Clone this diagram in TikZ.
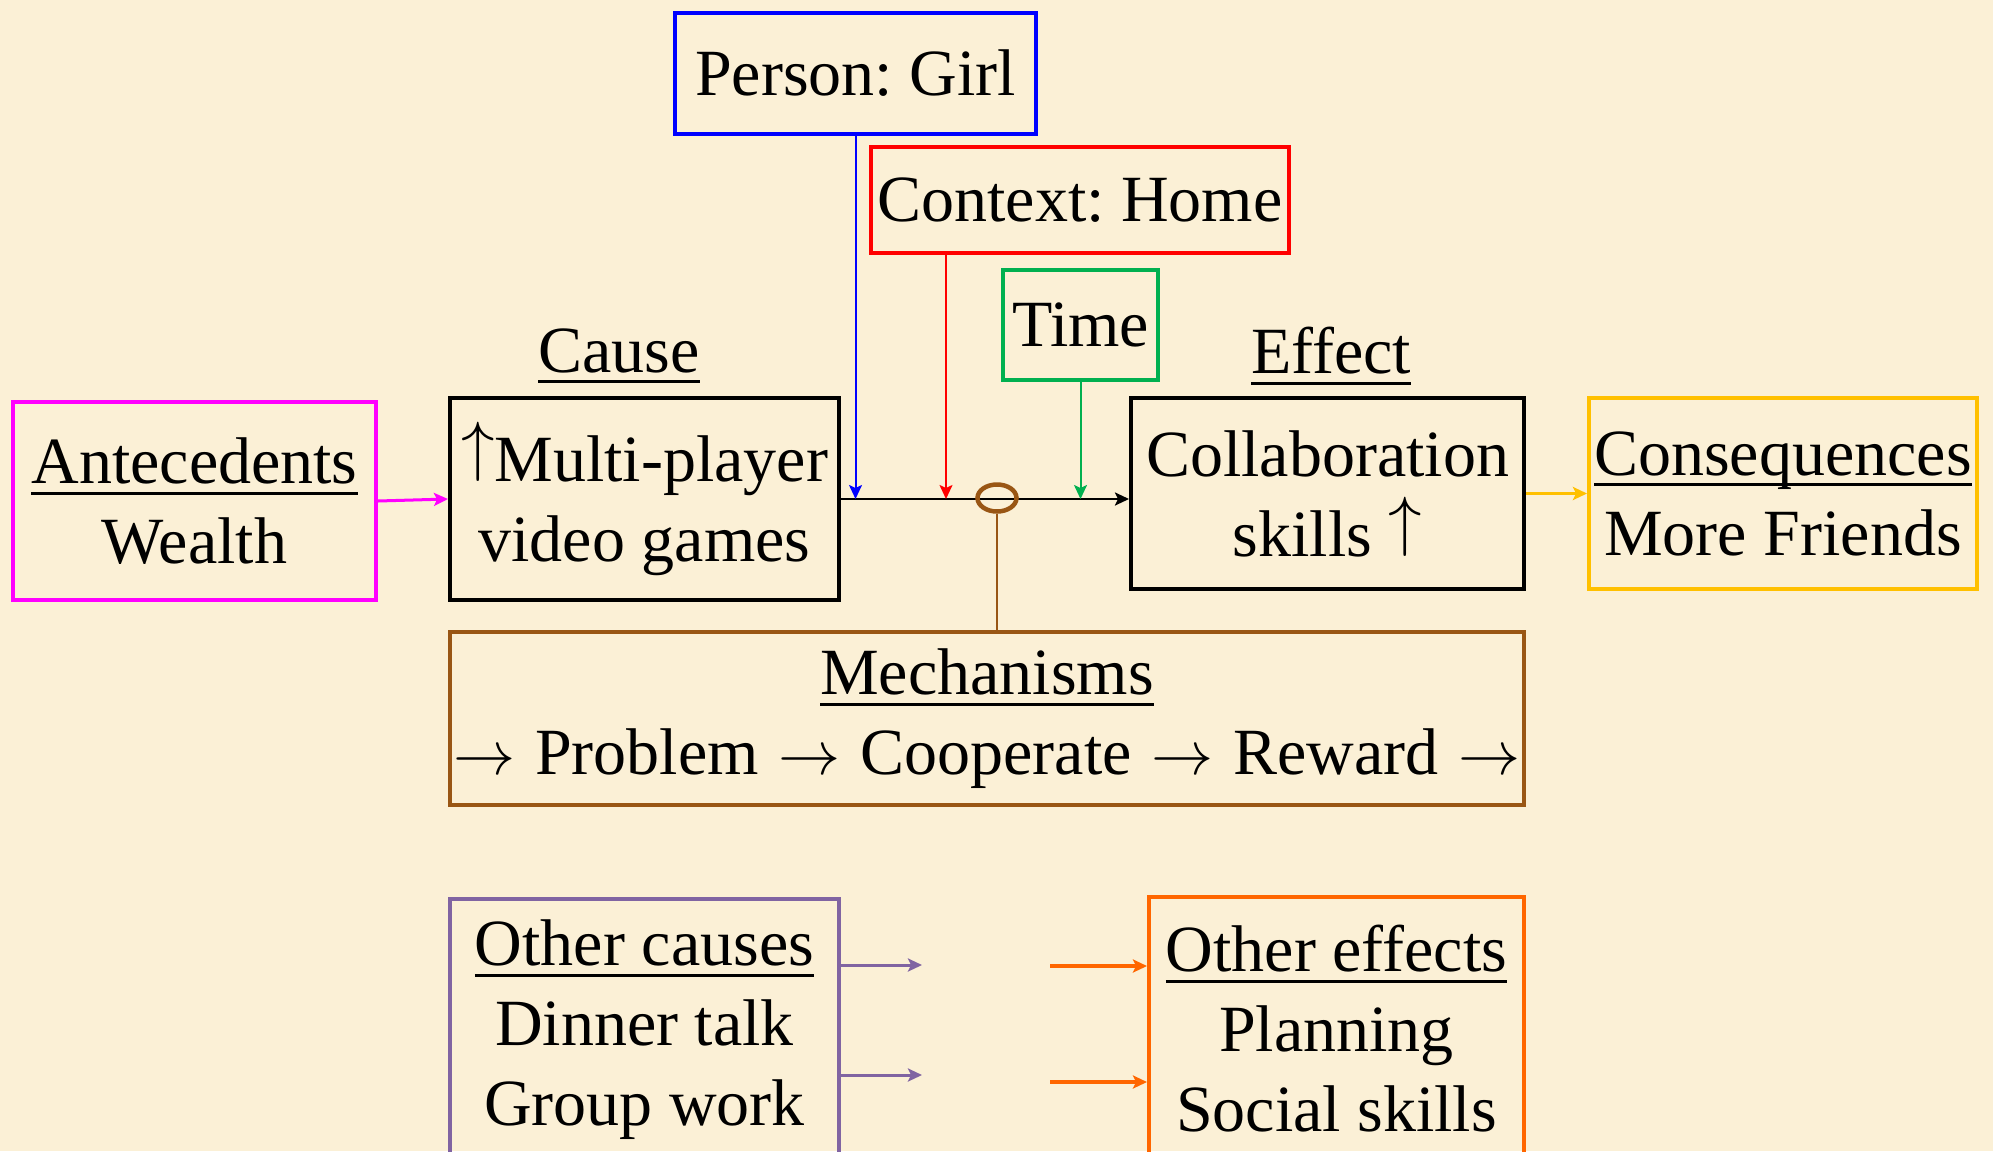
\documentclass[tikz,border=0pt]{standalone}
\usepackage{fontspec}
\usepackage{graphicx}
\setmainfont{Liberation Serif}
\frenchspacing
\usetikzlibrary{arrows.meta,shapes.geometric}
\definecolor{bgc}{RGB}{251,240,214}
\definecolor{pblue}{RGB}{0,0,255}
\definecolor{pred}{RGB}{255,0,0}
\definecolor{pgreen}{RGB}{0,176,80}
\definecolor{pmag}{RGB}{255,0,255}
\definecolor{pyellow}{RGB}{255,192,0}
\definecolor{pbrown}{RGB}{153,86,20}
\definecolor{ppurple}{RGB}{128,100,162}
\definecolor{porange}{RGB}{255,102,0}
\newcommand\ulword[1]{\setbox0\hbox{#1}\rlap{\rule[-0.17em]{\wd0}{0.045em}}\box0}
\newcommand\bigtext{\fontsize{66}{80}\selectfont}
\newcommand\uparr{\raisebox{\depth}{\resizebox*{!}{0.9em}{$\uparrow$}}}
\newcommand\rarr{\resizebox{0.94em}{!}{$\rightarrow$}}
\newcommand\gap{\hspace{0.3em}}
\tikzset{
  box/.style={draw, line width=4pt, inner sep=0pt, align=center, font=\bigtext},
  lbl/.style={inner sep=0pt, align=center, font=\bigtext},
  conn/.style={line width=2.5pt, -{Stealth[length=14pt,width=13pt,inset=3pt]}},
}
\begin{document}
\begin{tikzpicture}[x=1pt,y=-1pt]
\useasboundingbox (0,0) rectangle (1993,1151);
\fill[bgc] (0,0) rectangle (1993,1151);
\clip (0,0) rectangle (1993,1151);

% boxes
\node[box, draw=pblue, minimum width=361pt, minimum height=121pt] (person) at (855.5,73) {Person: Girl};
\node[box, draw=pred, minimum width=418pt, minimum height=106pt] (context) at (1080,200) {Context: Home};
\node[box, draw=pgreen, minimum width=155pt, minimum height=110pt] (time) at (1080.5,325) {Time};
\node[box, draw=pmag, minimum width=363pt, minimum height=198pt] (ante) at (194.5,501) {\ulword{Antecedents}\\Wealth};
\node[box, draw=black, minimum width=389pt, minimum height=202pt] (cause) at (644.5,499) {\uparr Multi-player\\video games};
\node[box, draw=black, minimum width=393pt, minimum height=191pt] (effect) at (1327.5,493.5) {Collaboration\\skills \uparr};
\node[box, draw=pyellow, minimum width=388pt, minimum height=191pt] (conseq) at (1783,493.5) {\ulword{Consequences}\\More Friends};
\node[box, draw=pbrown, minimum width=1074pt, minimum height=173pt] (mech) at (987,718.5) {\ulword{Mechanisms}\\\rarr\gap Problem\gap\rarr\gap Cooperate\gap\rarr\gap Reward\gap\rarr};
\node[box, draw=ppurple, minimum width=389pt, minimum height=262pt] (ocause) at (644.5,1030) {\ulword{Other causes}\\Dinner talk\\Group work};
\node[box, draw=porange, minimum width=375pt, minimum height=264pt] (oeffect) at (1336.5,1029) {\ulword{Other effects}\\Planning\\Social skills};

% labels
\node[lbl] (causelbl) at (619,356) {\ulword{Cause}};
\node[lbl] (effectlbl) at (1331,356) {\ulword{Effect}};

% main connector
\coordinate (mainline) at (839,499);
\draw[conn, black] (cause.east |- mainline) -- (mainline -| effect.west);
\draw[conn, pblue, line width=2pt] (person.south) -- (person.south |- mainline);
\draw[conn, pred, line width=2pt] ([xshift=-134pt]context.south) -- ([xshift=-134pt]context.south |- mainline);
\draw[conn, pgreen, line width=2pt] (time.south) -- (time.south |- mainline);

% moderator hub
\node[ellipse, draw=pbrown, line width=4.5pt, minimum width=39pt, minimum height=27pt, inner sep=0pt] (hub) at (997,498) {};
\draw[pbrown, line width=2.5pt] (hub.south) -- (hub.south |- mech.north);

% side connectors
\draw[conn, pmag, line width=3pt] (ante.east) -- (cause.west |- mainline);
\draw[conn, pyellow, line width=3pt] (effect.east) -- (conseq.west);

% other causes / effects
\coordinate (pe1) at (922,965);
\coordinate (pe2) at (922,1075);
\coordinate (os1) at (1050,966);
\coordinate (os2) at (1050,1082);
\draw[conn, ppurple, line width=3pt] (ocause.east |- pe1) -- (pe1);
\draw[conn, ppurple, line width=3pt] (ocause.east |- pe2) -- (pe2);
\draw[conn, porange, line width=3.5pt] (os1) -- (os1 -| oeffect.west);
\draw[conn, porange, line width=3.5pt] (os2) -- (os2 -| oeffect.west);
\end{tikzpicture}
\end{document}
